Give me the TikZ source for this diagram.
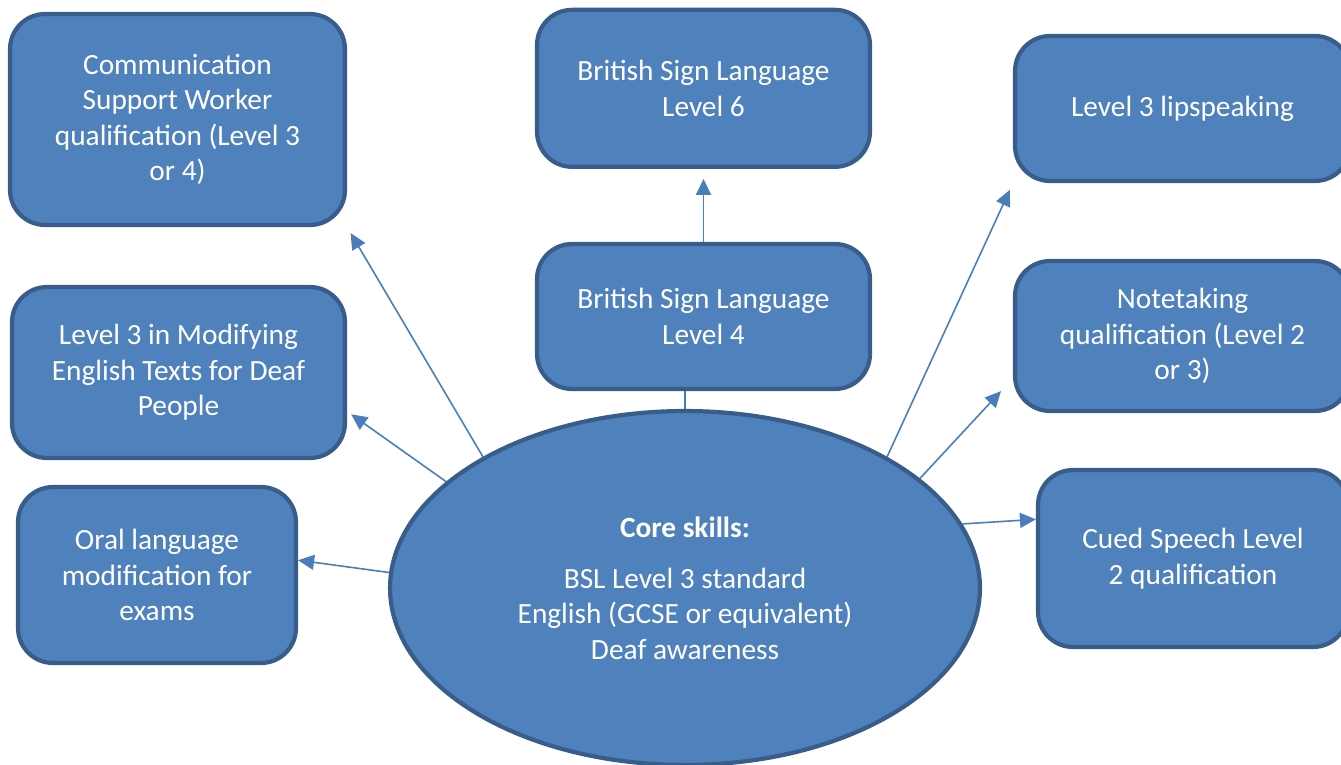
\documentclass[tikz,border=0pt]{standalone}
\usepackage{fontspec}
\setmainfont{Carlito}
\usetikzlibrary{shapes.geometric,arrows.meta,positioning,backgrounds}
\definecolor{boxfill}{HTML}{4F81BD}
\definecolor{boxline}{HTML}{385D8A}
\definecolor{arrowline}{HTML}{4A7EBB}
\tikzset{
  qual/.style={draw=boxline,fill=boxfill,line width=2.4pt,rounded corners=0.7cm,text=white,align=center,inner sep=0pt,font=\fontsize{16.7}{20.2}\selectfont},
  skills/.style={draw=boxline,fill=boxfill,line width=2.4pt,ellipse,text=white,align=center,inner sep=0pt,font=\fontsize{16.7}{20.2}\selectfont},
  conn/.style={draw=arrowline,line width=0.9pt,-{Triangle[length=0.32cm,width=0.3cm]}}
}

\begin{document}
\begin{tikzpicture}[x=0.02cm,y=-0.02cm]
\useasboundingbox (0,0) rectangle (1341,764);
\node (core) [skills,minimum width=11.8cm,minimum height=7.08cm] at (685,588) {\textbf{Core skills:}\\[9pt]BSL Level 3 standard\\English (GCSE or equivalent)\\Deaf awareness};
\node (csw) [qual,minimum width=6.7cm,minimum height=4.22cm] at (177.5,119.5) {Communication\\Support Worker\\qualification (Level 3\\or 4)};
\node (mod) [qual,minimum width=6.66cm,minimum height=3.42cm] at (178.5,372.5) {Level 3 in Modifying\\English Texts for Deaf\\People};
\node (oral) [qual,minimum width=5.56cm,minimum height=3.52cm] at (157,575) {Oral language\\modification for\\exams};
\node (bsl4) [qual,minimum width=6.66cm,minimum height=2.9cm] at (703.5,316.5) {British Sign Language\\Level 4};
\node (bsl6) [qual,minimum width=6.66cm,minimum height=3.14cm,above=1.46cm of bsl4] {British Sign Language\\Level 6};
\node (lip) [qual,minimum width=6.7cm,minimum height=2.9cm] at (1182.5,108.5) {Level 3 lipspeaking};
\node (note) [qual,minimum width=6.7cm,minimum height=3cm] at (1182.5,336) {Notetaking\\qualification (Level 2\\or 3)};
\node (cued) [qual,minimum width=6.2cm,minimum height=3.54cm] at (1193,558.5) {Cued Speech Level\\2 qualification};
% connectors sit behind the shapes
\begin{scope}[on background layer]
\draw[conn,shorten >=0.14cm] (core.147) -- (csw.south east);
\draw[conn,shorten >=0.1cm] (core.156) -- (mod.-13);
\draw[conn] (core.177) -- (oral.6);
\draw[conn] (core.north) -- (core.north |- bsl4.center);
\draw[conn,shorten >=0.2cm] (bsl4.center) -- (bsl6.south);
\draw[conn,shorten >=0.15cm] (core.33) -- (lip.south west);
\draw[conn,shorten >=0.35cm] (core.25) -- (note.194);
\draw[conn] (core.13) -- (cued.166);
\end{scope}
\end{tikzpicture}
\end{document}
